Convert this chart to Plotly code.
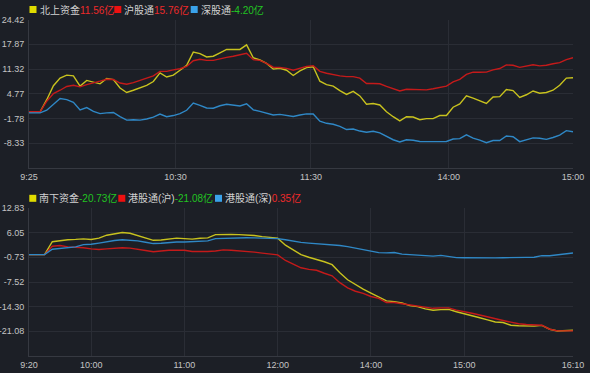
import plotly.graph_objects as go

# ---------------- data ----------------
# top panel: 北向 (minute index 0..245, 9:25 -> 15:00)
top_x = [0] + list(range(5, 246, 3))
top_tickvals = [0, 66, 127, 189, 245]
top_ticktext = ["9:25", "10:30", "11:30", "14:00", "15:00"]
top_yticks = [24.42, 17.87, 11.32, 4.77, -1.78, -8.33]

north_total = [0.0, 0.0, 3.2, 6.9, 8.9, 9.7, 9.5, 6.8, 8.3, 7.9,
               7.4, 8.8, 8.5, 6.3, 5.1, 5.7, 6.3, 7.0, 8.0, 10.3,
               9.2, 9.7, 11.0, 12.3, 15.8, 15.4, 14.5, 14.7, 15.6, 16.5,
               16.5, 16.5, 17.7, 14.3, 13.7, 12.8, 11.3, 11.5, 11.0, 9.6,
               10.8, 11.7, 11.9, 8.1, 7.2, 6.8, 5.6, 4.6, 5.4, 4.2,
               2.0, 2.2, 1.8, 0.0, -1.3, -2.4, -1.3, -1.4, -2.1, -1.8,
               -1.8, -1.0, -1.0, 1.2, 2.1, 4.2, 3.6, 3.0, 2.2, 3.9,
               4.0, 5.9, 5.6, 3.8, 4.5, 5.5, 4.9, 5.1, 5.7, 7.0,
               8.9, 9.0]
north_sh = [0.0, 0.0, 2.8, 4.8, 5.7, 6.7, 7.0, 6.6, 7.2, 7.75,
            8.1, 8.6, 8.55, 7.6, 7.3, 7.7, 8.3, 8.9, 9.5, 10.7,
            10.7, 11.1, 11.4, 12.0, 13.5, 13.9, 13.6, 13.6, 14.1, 14.4,
            14.7, 15.0, 15.5, 13.8, 13.6, 12.8, 11.8, 11.7, 11.5, 11.0,
            11.5, 12.0, 12.2, 10.7, 10.2, 9.8, 9.5, 9.3, 9.3, 8.9,
            7.5, 7.5, 7.4, 6.7, 6.2, 5.5, 5.96, 5.9, 5.7, 5.8,
            6.1, 6.5, 6.8, 7.9, 8.6, 9.9, 10.5, 10.45, 10.5, 11.1,
            11.45, 12.4, 12.3, 11.75, 12.1, 12.45, 12.15, 12.3, 12.7, 13.0,
            13.8, 14.3]
north_sz = [-0.3, -0.3, 0.4, 1.9, 3.5, 3.2, 2.5, 0.5, 1.1, 0.1,
            -0.5, -0.3, -0.2, -1.3, -2.2, -2.1, -2.2, -1.9, -1.4, -0.6,
            -1.3, -1.0, -0.5, 0.4, 2.3, 1.7, 1.0, 0.95, 1.6, 2.0,
            1.7, 1.55, 2.1, 0.5, 0.1, -0.3, -0.85, -0.7, -1.0, -1.25,
            -0.85, -0.55, -0.6, -2.5, -3.05, -3.3, -3.85, -4.7, -4.55, -5.1,
            -5.4, -5.15, -5.6, -6.6, -7.4, -8.0, -7.4, -7.55, -7.85, -7.9,
            -7.9, -7.9, -7.85, -7.2, -7.1, -6.1, -7.0, -7.5, -8.2, -7.6,
            -7.6, -6.4, -6.6, -7.9, -7.4, -6.9, -7.0, -7.3, -6.8, -6.2,
            -5.0, -5.3]

# bottom panel: 南向 (trading minutes 0..350, 9:20 -> 16:10, lunch removed)
bot_x = list(range(0, 351, 5))
bot_tickvals = [0, 40, 100, 160, 220, 280, 350]
bot_ticktext = ["9:20", "10:00", "11:00", "12:00", "14:00", "15:00", "16:10"]
bot_yticks = [12.83, 6.05, -0.73, -7.52, -14.30, -21.08]

south_total = [0.0, 0.0, 0.0, 3.55, 3.9, 4.1, 4.2, 4.35, 4.18, 4.55,
               5.35, 5.75, 6.1, 5.9, 5.2, 4.6, 3.95, 4.05, 4.35, 4.55,
               4.4, 4.27, 4.5, 4.6, 5.5, 5.62, 5.55, 5.5, 5.4, 5.25,
               4.95, 4.75, 4.55, 2.6, 1.2, 0.0, -0.7, -1.3, -1.95, -2.75,
               -5.0, -6.9, -8.3, -9.5, -10.6, -11.65, -12.7, -12.9, -13.3, -14.0,
               -14.3, -14.9, -15.27, -15.1, -15.05, -15.7, -16.2, -16.75, -17.35, -17.95,
               -18.5, -18.65, -19.4, -19.55, -19.66, -19.66, -19.45, -20.5, -21.0, -20.9,
               -20.76]
south_sh = [0.0, 0.0, 0.0, 2.32, 2.5, 2.15, 2.12, 1.9, 1.58, 1.4,
            1.6, 1.77, 1.9, 1.8, 1.55, 1.15, 0.8, 1.05, 1.2, 1.2,
            1.2, 0.87, 0.8, 0.85, 1.0, 1.32, 1.2, 1.1, 1.0, 0.7,
            0.43, 0.15, -0.05, -1.6, -2.6, -3.6, -4.05, -4.3, -5.1, -5.8,
            -7.7, -9.1, -10.05, -10.65, -11.5, -12.0, -13.16, -13.16, -13.5, -13.8,
            -14.2, -14.6, -14.75, -14.63, -14.63, -15.25, -15.6, -16.1, -16.6, -17.15,
            -17.65, -18.1, -18.55, -19.0, -19.2, -19.35, -19.39, -20.5, -20.94, -20.94,
            -20.94]
south_sz = [0.0, 0.0, 0.0, 1.5, 1.66, 1.9, 2.15, 2.76, 2.85, 3.17,
            3.6, 3.9, 4.12, 3.98, 3.78, 3.4, 3.05, 3.15, 3.35, 3.49,
            3.49, 3.55, 3.7, 3.8, 4.4, 4.5, 4.58, 4.65, 4.67, 4.62,
            4.55, 4.42, 4.4, 4.1, 3.7, 3.38, 3.17, 3.05, 2.9, 2.75,
            2.5, 2.2, 1.8, 1.25, 0.8, 0.56, 0.5, 0.6, 0.15, 0.0,
            -0.2, -0.35, -0.4, -0.2, -0.5, -0.8, -0.85, -0.9, -0.9, -0.9,
            -0.88, -0.83, -0.75, -0.65, -0.75, -0.7, -0.25, -0.3, -0.1, 0.1,
            0.45]

top_names = ["北上资金", "沪股通", "深股通"]
top_values = ["11.56亿", "15.76亿", "-4.20亿"]
bot_names = ["南下资金", "港股通(沪)", "港股通(深)"]
bot_values = ["-20.73亿", "-21.08亿", "0.35亿"]

# ---------------- style ----------------
W, H = 590, 373
L, R = 29, 17
BG = "#1c1f26"
GRID = "#2a2d35"
AXLINE = "#363941"
TICK = "#c4c4c4"
LINE_COLORS = ["#c8c21e", "#c41a1a", "#2f88c6"]
SQ_COLORS = ["#e0dc00", "#ee1010", "#3aa2ea"]
UP, DOWN, LABEL = "#ee2a2a", "#22c322", "#d2d2d2"
FONT = "Liberation Sans, Arial, Noto Sans CJK SC, sans-serif"

fig = go.Figure()
for ys, c in zip([north_total, north_sh, north_sz], LINE_COLORS):
    fig.add_trace(go.Scatter(x=top_x, y=ys, mode="lines", xaxis="x", yaxis="y",
                             line=dict(color=c, width=1.4), hoverinfo="skip"))
for ys, c in zip([south_total, south_sh, south_sz], LINE_COLORS):
    fig.add_trace(go.Scatter(x=bot_x, y=ys, mode="lines", xaxis="x2", yaxis="y2",
                             line=dict(color=c, width=1.4), hoverinfo="skip"))

axis_common = dict(showgrid=True, gridcolor=GRID, gridwidth=1, zeroline=False,
                   showline=True, linecolor=AXLINE, linewidth=1, ticks="",
                   automargin=False,
                   tickfont=dict(family=FONT, size=9, color=TICK), fixedrange=True)

def pyp(py):
    return 1 - py / H

fig.update_layout(
    width=W, height=H, margin=dict(l=L, r=R, t=0, b=0, autoexpand=False),
    paper_bgcolor=BG, plot_bgcolor=BG, showlegend=False,
    xaxis=dict(axis_common, anchor="y", range=[0, 245], tickvals=top_tickvals,
               ticktext=top_ticktext),
    yaxis=dict(axis_common, anchor="x", domain=[pyp(168), pyp(19.5)],
               range=[-14.88, 24.42], tickvals=top_yticks, ticklabelstandoff=2,
               ticktext=[f"{v:.2f}" for v in top_yticks]),
    xaxis2=dict(axis_common, anchor="y2", range=[0, 350], tickvals=bot_tickvals,
                ticktext=bot_ticktext),
    yaxis2=dict(axis_common, anchor="x2", domain=[pyp(356), pyp(208)],
                range=[-27.86, 12.83], tickvals=bot_yticks, ticklabelstandoff=2,
                ticktext=[f"{v:.2f}" for v in bot_yticks]),
)

def pxp(px):
    return (px - L) / (W - L - R)

def value_color(v):
    return DOWN if v.startswith("-") else UP

def header(row_y, sq_xs, names, values):
    for sx, sc, nm, val in zip(sq_xs, SQ_COLORS, names, values):
        fig.add_shape(type="rect", xref="paper", yref="paper",
                      x0=pxp(sx), x1=pxp(sx + 7), y0=pyp(row_y + 3.5), y1=pyp(row_y - 3.5),
                      fillcolor=sc, line=dict(width=0), layer="above")
        fig.add_annotation(xref="paper", yref="paper", x=pxp(sx + 9), y=pyp(row_y),
                           xanchor="left", yanchor="middle", showarrow=False,
                           borderpad=0,
                           text=f"<span style='color:{LABEL}'>{nm}</span>"
                                f"<span style='color:{value_color(val)}'>{val}</span>",
                           font=dict(family=FONT, size=10))

header(9.5, [29.5, 114.3, 190.7], top_names, top_values)
header(198.3, [29.3, 118.3, 215.0], bot_names, bot_values)

fig.write_html(
    "out.html",
    config={"displayModeBar": False, "staticPlot": True},
    post_script="document.body.style.margin='0';document.body.style.overflow='hidden';"
                "document.body.style.background='" + BG + "';",
)
